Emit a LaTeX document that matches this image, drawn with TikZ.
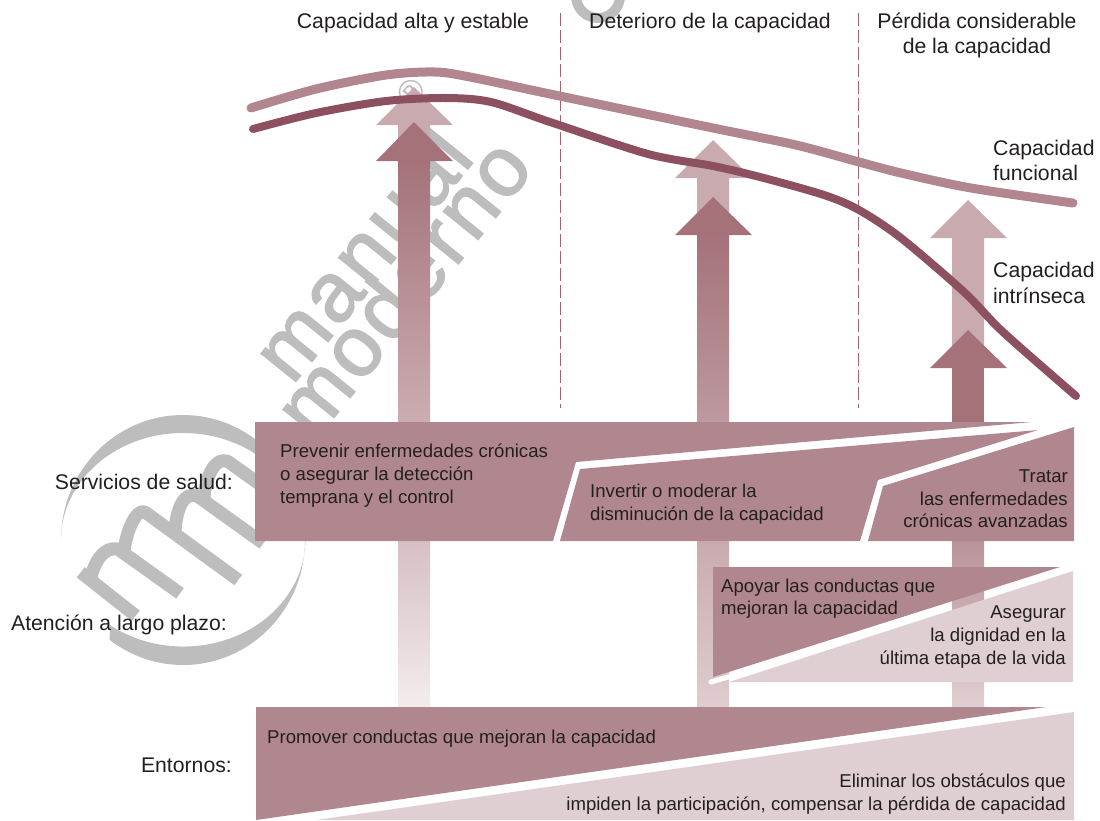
\documentclass[tikz,border=0pt]{standalone}
\usepackage{fontspec}
\setmainfont{Liberation Sans}
\newfontfamily\markfont[FakeBold=2,LetterSpace=4]{Liberation Sans}
\definecolor{boxrose}{HTML}{B1878F}
\definecolor{palerose}{HTML}{E0CFD2}
\definecolor{linerose}{HTML}{B1868F}
\definecolor{linewine}{HTML}{8C5060}
\definecolor{dashrose}{HTML}{A8606F}
\definecolor{lightarrow}{HTML}{C9ABAF}
\definecolor{darkarrow}{HTML}{A5727A}
\definecolor{markgray}{HTML}{BDBDBD}
\definecolor{inktext}{HTML}{231F20}
\tikzset{
	bodytext/.style={text=inktext, font=\fontsize{18.6}{22.6}\selectfont, inner sep=0pt, align=left},
	bodyright/.style={bodytext, align=right},
	headtext/.style={text=inktext, font=\fontsize{21.2}{25}\selectfont, inner sep=0pt, align=center},
	sidetext/.style={text=inktext, font=\fontsize{21.2}{25.5}\selectfont, inner sep=0pt, align=left},
	marktext/.style={text=markgray, inner sep=0pt, rotate=51, anchor=base west, font=\markfont\fontsize{84}{84}\selectfont},
	logostroke/.style={markgray, line width=13pt, line join=round},
	stagediv/.style={color=dashrose, line width=1pt, dash pattern=on 13pt off 4pt},
}
\begin{document}
\begin{tikzpicture}[x=1pt, y=-1pt]
	%%%%% WATERMARK %%%%%
	\useasboundingbox (0, 0) rectangle (1100, 820);
	\fill[markgray] (61, 540) arc (180:360:122 and 125) arc (360:180:122 and 107);
	\fill[markgray] (305, 540) arc (0:127:122 and 125) -- (110, 625) arc (127:0:122 and 107);
	\draw[logostroke] (80.7, 572.3) -- (135.7, 615.7);
	\draw[logostroke] (90.7, 580) .. controls (92.7, 565) and (103.3, 545) .. (118.3, 549.3) -- (180, 593.3);
	\draw[logostroke] (124, 554) .. controls (124, 540) and (135, 504) .. (146.7, 513.3) -- (238.3, 580);
	\draw[logostroke] (175, 534.3) .. controls (175, 516.7) and (181.7, 488.3) .. (198.3, 496.7) -- (263.3, 543.3);
	\draw[logostroke] (204, 500) .. controls (204, 483.3) and (213.3, 455) .. (228.3, 461.7) -- (292, 507.3);
	\node[marktext] (markmanual) at (292, 386) {manual};
	\node[marktext] (markmoderno) at (314, 442) {moderno};
	\node[text=markgray, inner sep=0pt, rotate=51, font=\fontsize{34}{34}\selectfont] (markreg) at (411, 92) {®};
	\fill[markgray, even odd rule] (598, -4) circle (27) (598, -4) circle (17);

	%%%%% ARROWS %%%%%
	\draw[stagediv] (560, 13) -- (560, 408);
	\draw[stagediv] (858, 13) -- (858, 408);

	\fill[lightarrow] (414, 87) -- (453, 125) -- (430, 125) -- (430, 161) -- (398, 161) -- (398, 125) -- (376, 125) -- cycle;
	\fill[darkarrow] (414, 122) -- (453, 161) -- (376, 161) -- cycle;
	\shade[top color=darkarrow, bottom color=darkarrow!55!white!90!boxrose] (398, 161) rectangle (430, 422);
	\shade[top color=lightarrow!75!white, bottom color=lightarrow!22!white] (398, 541) rectangle (430, 707);

	\fill[lightarrow] (713, 140) -- (752, 178) -- (729, 178) -- (729, 235) -- (697, 235) -- (697, 178) -- (675, 178) -- cycle;
	\fill[darkarrow] (713, 197) -- (752, 235) -- (675, 235) -- cycle;
	\shade[top color=darkarrow, bottom color=boxrose!85!white] (697, 235) rectangle (729, 422);
	\shade[top color=lightarrow, bottom color=lightarrow!60!white] (697, 541) rectangle (729, 707);

	\fill[lightarrow] (968, 200) -- (1007, 238) -- (984, 238) -- (984, 368) -- (952, 368) -- (952, 238) -- (930, 238) -- cycle;
	\fill[darkarrow] (968, 330) -- (1007, 368) -- (930, 368) -- cycle;
	\fill[darkarrow] (952, 368) rectangle (984, 422);
	\shade[top color=boxrose!90!white, bottom color=palerose] (952, 541) rectangle (984, 707);

	%%%%% CURVES %%%%%
	\draw[linerose, line width=9pt, line cap=round] plot[smooth, tension=0.5] coordinates {(251, 108) (316, 89) (386, 75) (435, 72) (470, 77) (550, 94) (713, 128) (796, 145) (859, 162) (901, 173) (971, 188) (1073, 203)};
	\draw[linewine, line width=8pt, line cap=round] plot[smooth, tension=0.5] coordinates {(253, 129) (316, 113) (386, 101) (446, 98) (491, 102) (550, 122) (648, 154) (713, 166) (760, 177) (824, 195) (859, 210) (901, 238) (964, 292) (1003, 332) (1076, 396)};

	%%%%% BOXES %%%%%
	\fill[boxrose] (255, 422) -- (1032, 422) -- (576, 462) -- (553, 541) -- (255, 541) -- cycle;
	\fill[boxrose] (1038, 430) -- (580, 469) -- (560, 541) -- (860, 541) -- (878, 480) -- cycle;
	\fill[boxrose] (1074, 427) -- (883, 486) -- (868, 541) -- (1074, 541) -- cycle;

	\fill[boxrose] (713, 567) -- (1060, 567) -- (713, 677) -- cycle;
	\fill[palerose] (1073, 571) -- (1073, 682) -- (729, 682) -- cycle;
	\draw[white, line width=5pt, line cap=round] (711, 682) -- (728, 677);

	\fill[boxrose] (256, 707) -- (1046, 707) -- (256, 820) -- cycle;
	\fill[palerose] (1074, 712) -- (1074, 820) -- (316, 820) -- cycle;

	%%%%% TEXT %%%%%
	\node[headtext] (headhigh) at (413, 23) {Capacidad alta y estable};
	\node[headtext] (headfall) at (710, 23) {Deterioro de la capacidad};
	\node[headtext] (headloss) at (977, 35) {Pérdida considerable\\de la capacidad};
	\node[sidetext, anchor=west] (labfunc) at (993, 160.5) {Capacidad\\funcional};
	\node[sidetext, anchor=west] (labintr) at (993, 283) {Capacidad\\intrínseca};
	\node[sidetext, anchor=east] (labsalud) at (233, 482) {Servicios de salud:};
	\node[sidetext, anchor=east] (labcare) at (227, 625) {Atención a largo plazo:};
	\node[sidetext, anchor=east] (labenv) at (232, 765) {Entornos:};
	\node[bodytext, anchor=west] (prevent) at (280, 475.5) {Prevenir enfermedades crónicas\\o asegurar la detección\\temprana y el control};
	\node[bodytext, anchor=west] (reverse) at (590, 504) {Invertir o moderar la\\disminución de la capacidad};
	\node[bodyright, anchor=east] (treat) at (1068, 499) {Tratar\\las enfermedades\\crónicas avanzadas};
	\node[bodytext, anchor=west] (support) at (721, 598.5) {Apoyar las conductas que\\mejoran la capacidad};
	\node[bodyright, anchor=east] (dignity) at (1066, 637) {Asegurar\\la dignidad en la\\última etapa de la vida};
	\node[bodytext, anchor=west] (promote) at (267, 739) {Promover conductas que mejoran la capacidad};
	\node[bodyright, anchor=east] (remove) at (1066, 794) {Eliminar los obstáculos que\\impiden la participación, compensar la pérdida de capacidad};
\end{tikzpicture}
\end{document}
